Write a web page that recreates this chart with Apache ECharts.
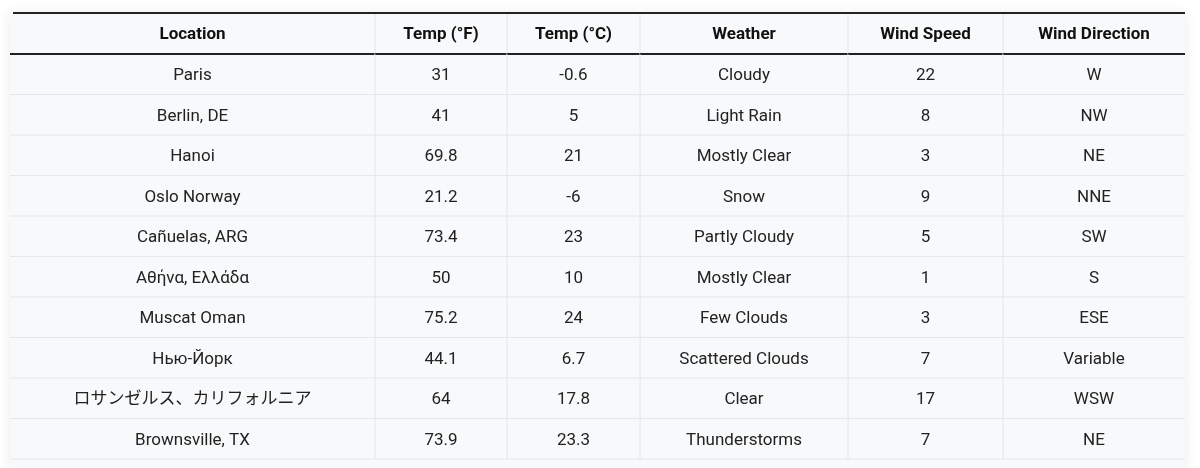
<!DOCTYPE html>
<html>
<head>
<meta charset="utf-8">
<script src="https://cdn.jsdelivr.net/npm/echarts@6/dist/echarts.min.js"></script>
<style>html,body{margin:0;padding:0;background:#fff}#main{width:1200px;height:468px}</style>
</head>
<body>
<div id="main"></div>
<script>
// table content
var headers = ['Location', 'Temp (°F)', 'Temp (°C)', 'Weather', 'Wind Speed', 'Wind Direction'];
var locations = ['Paris', 'Berlin, DE', 'Hanoi', 'Oslo Norway', 'Cañuelas, ARG', 'Αθήνα, Ελλάδα', 'Muscat Oman', 'Нью-Йорк', 'ロサンゼルス、カリフォルニア', 'Brownsville, TX'];
var tempF = ['31', '41', '69.8', '21.2', '73.4', '50', '75.2', '44.1', '64', '73.9'];
var tempC = ['-0.6', '5', '21', '-6', '23', '10', '24', '6.7', '17.8', '23.3'];
var weather = ['Cloudy', 'Light Rain', 'Mostly Clear', 'Snow', 'Partly Cloudy', 'Mostly Clear', 'Few Clouds', 'Scattered Clouds', 'Clear', 'Thunderstorms'];
var windSpeed = ['22', '8', '3', '9', '5', '1', '3', '7', '17', '7'];
var windDir = ['W', 'NW', 'NE', 'NNE', 'SW', 'S', 'ESE', 'Variable', 'WSW', 'NE'];

// layout (pixel-ish coordinates on the hidden axes)
var colEdges = [10, 375, 507, 640, 848, 1003, 1185];
var headTop = 13, headBottom = 54, rowH = 40.5;

var columns = [locations, tempF, tempC, weather, windSpeed, windDir];
var cells = [];
headers.forEach(function (h, c) { cells.push([c, -1, h]); });
locations.forEach(function (_, r) {
    columns.forEach(function (col, c) { cells.push([c, r, col[r]]); });
});

var chart = echarts.init(document.getElementById('main'));
chart.setOption({
    animation: false,
    grid: { left: 0, right: 0, top: 0, bottom: 0 },
    xAxis: { type: 'value', min: 0, max: 1200, show: false },
    yAxis: { type: 'value', min: 0, max: 468, inverse: true, show: false },
    graphic: [{
        type: 'rect', z: -1,
        shape: { x: 10, y: headTop, width: 1175, height: 468 - headTop },
        style: { fill: '#f8f9fa', shadowBlur: 12, shadowColor: 'rgba(0,0,0,0.08)' }
    }],
    series: [{
        type: 'custom',
        data: cells,
        renderItem: function (params, api) {
            var c = api.value(0), r = api.value(1);
            var y0 = r < 0 ? headTop : headBottom + r * rowH;
            var y1 = r < 0 ? headBottom : y0 + rowH;
            var p0 = api.coord([colEdges[c], y0]);
            var p1 = api.coord([colEdges[c + 1], y1]);
            var kids = [{
                type: 'text',
                style: {
                    x: (p0[0] + p1[0]) / 2, y: (p0[1] + p1[1]) / 2 + 1.5,
                    text: cells[params.dataIndex][2],
                    align: 'center', verticalAlign: 'middle',
                    font: (r < 0 ? 'bold ' : '') + '17px Roboto, "Noto Sans CJK JP", sans-serif',
                    fill: r < 0 ? '#111' : '#222'
                }
            }, {
                type: 'line',
                shape: { x1: p0[0], y1: p1[1], x2: p1[0], y2: p1[1] },
                style: { stroke: r < 0 ? '#222' : '#e4e6e9', lineWidth: r < 0 ? 2 : 1 }
            }];
            if (c < colEdges.length - 2) {
                kids.push({
                    type: 'line',
                    shape: { x1: p1[0], y1: p0[1], x2: p1[0], y2: p1[1] },
                    style: { stroke: '#e4e6e9', lineWidth: 1 }
                });
            }
            if (r < 0) {
                kids.push({
                    type: 'line',
                    shape: { x1: p0[0] + (c === 0 ? 3 : 0), y1: p0[1], x2: p1[0], y2: p0[1] },
                    style: { stroke: '#222', lineWidth: 2 }
                });
            }
            return { type: 'group', children: kids };
        }
    }]
});
</script>
</body>
</html>
